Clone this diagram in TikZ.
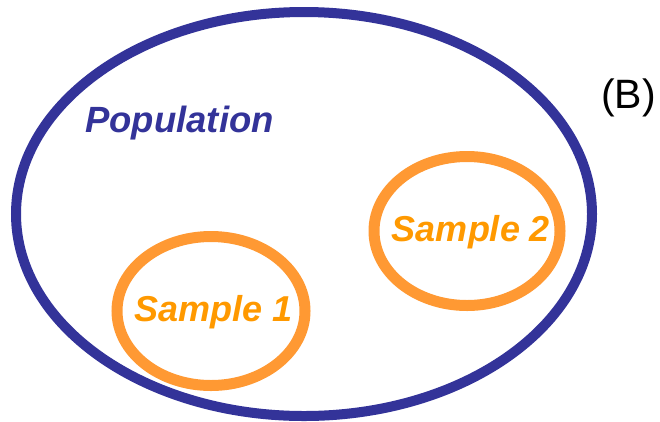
\documentclass[tikz,border=0pt]{standalone}
\usepackage{fontspec}
\setmainfont{Liberation Sans}
\usetikzlibrary{shapes.geometric}
\definecolor{popblue}{HTML}{333399}
\definecolor{samporange}{HTML}{FF9933}
\definecolor{textorange}{HTML}{FF9900}

\begin{document}
\begin{tikzpicture}[x=1pt, y=-1pt,
  set/.style = {ellipse, draw, inner sep=0pt},
  sample/.style = {set, draw=samporange, line width=11pt,
    minimum width=188pt, minimum height=149pt},
  samplename/.style = {inner sep=0pt, text=textorange,
    font=\fontsize{36}{36}\selectfont\bfseries\itshape}]
  \useasboundingbox (0,0) rectangle (660,421);
  \node[set, draw=popblue, line width=10pt,
    minimum width=576pt, minimum height=404pt] (pop) at (304,214) {};
  \node[sample] (sampleA) at (211,311) {};
  \node[sample, minimum width=186pt] (sampleB) at (467,231) {};
  \node[samplename] (nameA) at ([shift={(3,1)}]sampleA.center) {Sample 1};
  \node[samplename] (nameB) at ([shift={(4,1)}]sampleB.center) {Sample 2};
  \node[anchor=base west, inner sep=0pt, text=popblue,
    font=\fontsize{36.5}{36.5}\selectfont\bfseries\itshape] (popname) at (85,132) {Population};
  \node[anchor=base east, inner sep=0pt,
    font=\fontsize{41}{41}\selectfont] (tag) at (656,108) {(B)};
\end{tikzpicture}
\end{document}
